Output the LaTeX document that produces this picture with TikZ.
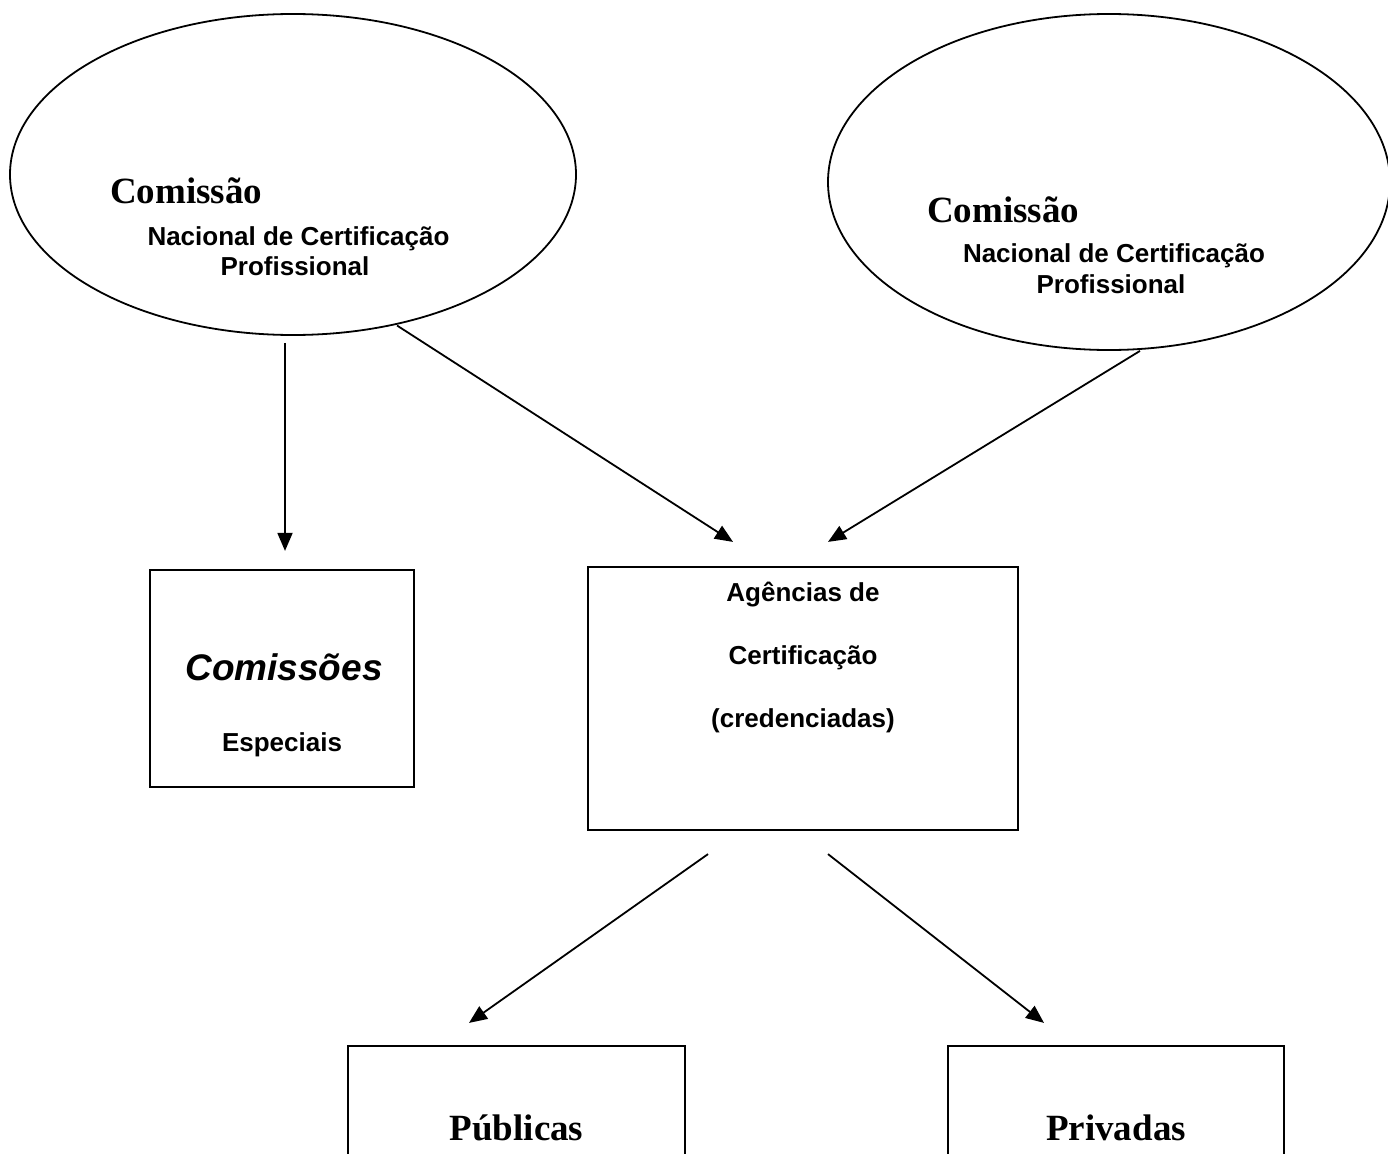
\documentclass[tikz,border=0pt]{standalone}
\usepackage{fontspec}
\setmainfont{Liberation Sans}
\newfontfamily\serifb{Liberation Serif}
\usetikzlibrary{shapes.geometric,arrows.meta,calc}
\begin{document}
\begin{tikzpicture}[x=1pt,y=-1pt,
  oval/.style={draw,ellipse,line width=1.8pt,inner sep=0pt},
  box/.style={draw,rectangle,line width=2.2pt,inner sep=0pt},
  arr/.style={line width=1.8pt,-{Triangle[length=18pt,width=15pt]}},
  sansb/.style={font=\fontsize{26}{30}\selectfont\bfseries,inner sep=0pt},
  serbig/.style={font=\fontsize{37}{42}\selectfont\serifb\bfseries,inner sep=0pt},
  sansbig/.style={font=\fontsize{37}{42}\selectfont\bfseries\itshape,inner sep=0pt}]
\useasboundingbox (0,0) rectangle (1388,1153);
\clip (0,0) rectangle (1388,1153);
% ellipses
\node[oval,minimum width=566pt,minimum height=321pt] (e1) at (293,174.5) {};
\node[oval,minimum width=562pt,minimum height=336pt] (e2) at (1109,182) {};
\node[serbig,anchor=base west] (t1a) at (110,203) {Comissão};
\node[sansb,anchor=base] (t1b) at (298.5,245) {Nacional de Certificação};
\node[sansb,anchor=base] (t1c) at (295,275) {Profissional};
\node[serbig,anchor=base west] (t2a) at (927,222) {Comissão};
\node[sansb,anchor=base] (t2b) at (1114,262) {Nacional de Certificação};
\node[sansb,anchor=base] (t2c) at (1111,293) {Profissional};
% boxes
\node[box,minimum width=264pt,minimum height=217pt] (cs) at (282,678.5) {};
\node[sansbig,anchor=base] (cst) at (284,680) {Comissões};
\node[sansb,anchor=base] (cse) at (282,751) {Especiais};
\node[box,minimum width=430pt,minimum height=263pt] (ag) at (803,698.5) {};
\node[sansb,anchor=base] (ag1) at (803,601) {Agências de};
\node[sansb,anchor=base] (ag2) at (803,664) {Certificação};
\node[sansb,anchor=base] (ag3) at (803,727) {(credenciadas)};
\node[box,minimum width=337pt,minimum height=154pt] (pub) at (516.5,1123) {};
\node[serbig,anchor=base] (pubt) at (516.5,1140) {Públicas};
\node[box,minimum width=336pt,minimum height=154pt] (priv) at (1116,1123) {};
\node[serbig,anchor=base] (privt) at (1116,1140) {Privadas};
% arrows
\draw[arr] ($(e1.south)+(-8,7)$) -- ($(cs.north)+(3,-18)$);
\draw[arr] ($(e1.center)+(104,151)$) -- ($(ag.north)+(-70,-24)$);
\draw[arr] ($(e2.south)+(31,0)$) -- ($(ag.north)+(25,-24)$);
\draw[arr] ($(ag.south)+(-95,23)$) -- ($(pub.north)+(-47.5,-22)$);
\draw[arr] ($(ag.south)+(25,23)$) -- ($(priv.north)+(-72,-22)$);
\end{tikzpicture}
\end{document}
